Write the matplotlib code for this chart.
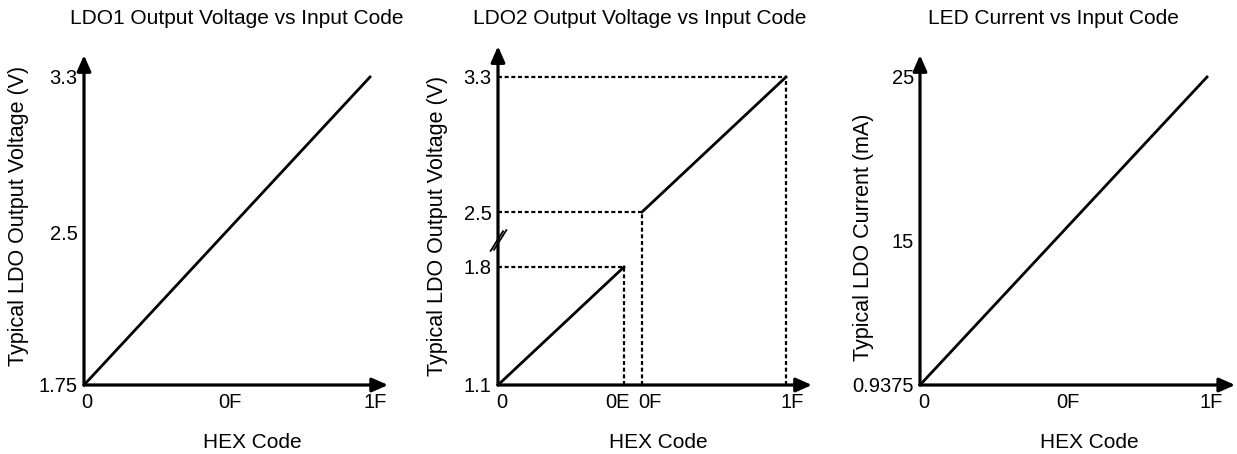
import numpy as np
import matplotlib
matplotlib.use('Agg')
import matplotlib.pyplot as plt
from matplotlib.path import Path
from matplotlib.transforms import ScaledTranslation

plt.rcParams['font.family'] = ['Liberation Sans', 'DejaVu Sans']

# ---- data ----
hex_codes      = [0x00, 0x1F]
ldo1_volts     = [1.75, 3.3]
ldo2_codes_lo  = [0x00, 0x0E]
ldo2_volts_lo  = [1.1, 1.8]
ldo2_codes_hi  = [0x0F, 0x1F]
ldo2_volts_hi  = [2.5, 3.3]
led_current_ma = [0.9375, 25]

ldo1_yticks  = [1.75, 2.5, 3.3]
ldo1_ylabels = ['1.75', '2.5', '3.3']
ldo2_yticks  = [1.1, 1.8, 2.5, 3.3]
ldo2_ylabels = ['1.1', '1.8', '2.5', '3.3']
led_yticks   = [0.9375, 15, 25]
led_ylabels  = ['0.9375', '15', '25']
xticks_main  = [0x00, 0x0F, 0x1F]
xlabels_main = ['0', '0F', '1F']
ldo2_xticks  = [0x00, 0x0E, 0x0F, 0x1F]
ldo2_xlabels = ['0', '0E', '0F', '1F']

titles  = ['LDO1 Output Voltage vs Input Code',
           'LDO2 Output Voltage vs Input Code',
           'LED Current vs Input Code']
ylabels = ['Typical LDO Output Voltage (V)',
           'Typical LDO Output Voltage (V)',
           'Typical LDO Current (mA)']
xlabel = 'HEX Code'

W, H = 1237, 454
fs_tick, fs_text = 14.5, 15
dash = (0, (1.8, 1.2))


def piecewise(vals, pos):
    # schematic axis: linear between anchor values, linear outside
    def make(a, b):
        a = np.asarray(a, float)
        b = np.asarray(b, float)
        s0 = (b[1] - b[0]) / (a[1] - a[0])
        s1 = (b[-1] - b[-2]) / (a[-1] - a[-2])

        def f(v):
            v = np.asarray(v, float)
            out = np.interp(v, a, b)
            out = np.where(v < a[0], b[0] + (v - a[0]) * s0, out)
            out = np.where(v > a[-1], b[-1] + (v - a[-1]) * s1, out)
            return out
        return f
    return make(vals, pos), make(pos, vals)


def px_rect(l, r, t, b):
    return [l / W, 1 - b / H, (r - l) / W, (b - t) / H]


def fig_text(x, y, s, **kw):
    fig.text(x / W, 1 - y / H, s, ha='center', va='center', **kw)


def setup_axis(ax, xticks, xlabels, yticks, ylabels, xtip, ytip, xshift):
    for sp in ax.spines.values():
        sp.set_visible(False)
    ax.patch.set_alpha(0)
    ax.set_xticks(xticks)
    ax.set_xticklabels(xlabels)
    ax.set_yticks(yticks)
    ax.set_yticklabels(ylabels)
    ax.tick_params(axis='both', length=0, labelsize=fs_tick)
    ax.tick_params(axis='x', pad=5.5)
    ax.tick_params(axis='y', pad=4.5)
    for lab, dx in zip(ax.get_xticklabels(), xshift):
        lab.set_transform(lab.get_transform() +
                          ScaledTranslation(dx / 100, 0, fig.dpi_scale_trans))
    kw = dict(arrowstyle='-|>,head_length=0.95,head_width=0.42', lw=2.3,
              color='k', shrinkA=0, shrinkB=0)
    ax.annotate('', xy=(xtip, 0), xytext=(0, 0), xycoords='axes fraction',
                arrowprops=kw, annotation_clip=False)
    ax.annotate('', xy=(0, ytip), xytext=(0, 0), xycoords='axes fraction',
                arrowprops=kw, annotation_clip=False)


fig = plt.figure(figsize=(W / 100, H / 100), dpi=100)
fig.patch.set_facecolor('white')

ax1 = fig.add_axes(px_rect(84, 370, 77, 385))
ax2 = fig.add_axes(px_rect(498, 786, 77, 385))
ax3 = fig.add_axes(px_rect(920, 1207, 77, 385))

# x scales (schematic tick spacing)
for ax in (ax1, ax3):
    ax.set_xscale('function', functions=piecewise([0, 15, 31], [0, 0.5, 1]))
ax2.set_xscale('function',
               functions=piecewise([0, 14, 15, 31], [0, 0.4375, 0.5, 1]))

# y scales
ax1.set_yscale('function', functions=piecewise(ldo1_yticks, [0, 153, 308]))
ax2.set_yscale('function', functions=piecewise(ldo2_yticks, [0, 118, 173, 308]))
ax3.set_yscale('function', functions=piecewise(led_yticks, [0, 145, 308]))

for ax in (ax1, ax2, ax3):
    ax.set_xlim(0, 31)
ax1.set_ylim(ldo1_yticks[0], ldo1_yticks[-1])
ax2.set_ylim(ldo2_yticks[0], ldo2_yticks[-1])
ax3.set_ylim(led_yticks[0], led_yticks[-1])

# panel 1
ax1.plot(hex_codes, ldo1_volts, color='k', lw=2.0, clip_on=False)
setup_axis(ax1, xticks_main, xlabels_main, ldo1_yticks, ldo1_ylabels,
           1.063, 1.071, [3, 3, 5])

# panel 2: dotted guides to the segment end points
ymin = ldo2_volts_lo[0]
for cx, cy in [(ldo2_codes_lo[1], ldo2_volts_lo[1]),
               (ldo2_codes_hi[0], ldo2_volts_hi[0]),
               (ldo2_codes_hi[1], ldo2_volts_hi[1])]:
    ax2.plot([0, cx], [cy, cy], color='k', lw=1.6, ls=dash, clip_on=False)
    ax2.plot([cx, cx], [ymin, cy], color='k', lw=1.6, ls=dash, clip_on=False)
ax2.plot(ldo2_codes_lo, ldo2_volts_lo, color='k', lw=2.0, clip_on=False)
ax2.plot(ldo2_codes_hi, ldo2_volts_hi, color='k', lw=2.0, clip_on=False)
setup_axis(ax2, ldo2_xticks, ldo2_xlabels, ldo2_yticks, ldo2_ylabels,
           1.09, 1.10, [4, -7, 8, 6])

# axis break mark "//"
brk = Path([(-0.75, -1.0), (0.45, 0.9), (-0.45, -0.9), (0.75, 1.0)],
           [Path.MOVETO, Path.LINETO, Path.MOVETO, Path.LINETO])
ax2.plot([0], [(ldo2_volts_lo[1] + ldo2_volts_hi[0]) / 2], marker=brk, ms=16,
         mew=1.3, mec='k', mfc='none', ls='none',
         transform=ax2.get_yaxis_transform(), clip_on=False)

# panel 3
ax3.plot(hex_codes, led_current_ma, color='k', lw=2.0, clip_on=False)
setup_axis(ax3, xticks_main, xlabels_main, led_yticks, led_ylabels,
           1.098, 1.071, [4, 4, 4])

# titles and axis labels
for x, t in zip([237, 640, 1053], titles):
    fig_text(x, 18, t, fontsize=fs_text)
for x, y, t in zip([19, 437, 863], [216, 226, 237], ylabels):
    fig_text(x, y, t, fontsize=15.5, rotation=90)
for x in [252, 658, 1089]:
    fig_text(x, 442, xlabel, fontsize=fs_text)

fig.savefig('out.png', dpi=100, facecolor='white')
